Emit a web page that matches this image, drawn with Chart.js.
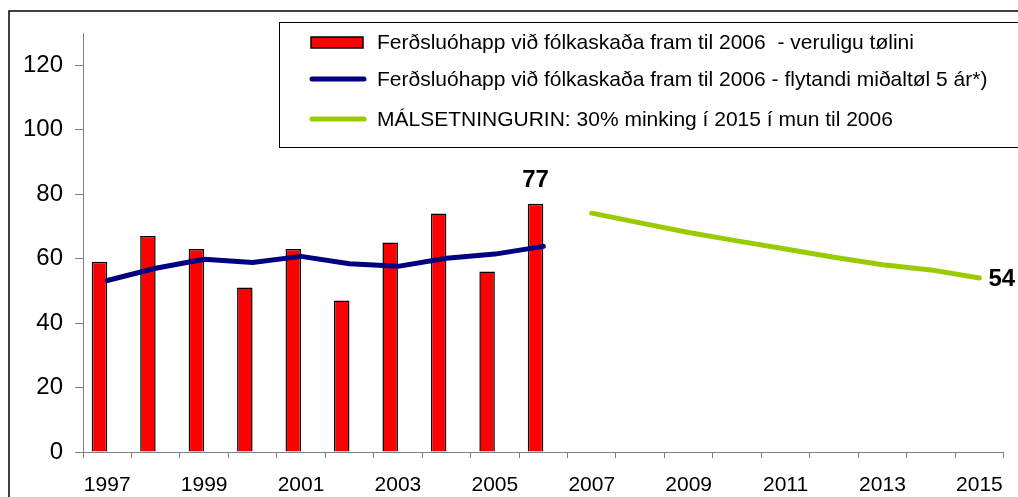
<!DOCTYPE html>
<html>
<head>
<meta charset="utf-8">
<script src="https://cdn.jsdelivr.net/npm/chart.js@4/dist/chart.umd.min.js"></script>
<style>
html,body{margin:0;padding:0;background:#fff;}
canvas{display:block;}
</style>
</head>
<body>
<canvas id="c" width="1018" height="497"></canvas>
<script>
const years = ['1997','1998','1999','2000','2001','2002','2003','2004','2005','2006','2007','2008','2009','2010','2011','2012','2013','2014','2015'];
const actualCounts = [59,67,63,51,63,47,65,74,56,77,null,null,null,null,null,null,null,null,null];
const movingAverage = [53.2,57.0,59.8,58.8,60.7,58.4,57.6,60.1,61.4,63.8,null,null,null,null,null,null,null,null,null];
const targetPath = [null,null,null,null,null,null,null,null,null,null,74.1,71.1,68.1,65.5,63.0,60.4,58.1,56.5,54.0];
const emptySlot = years.map(() => null);
const yTicksMax = 120;

const labelActual = 'Ferðsluóhapp við fólkaskaða fram til 2006  - veruligu tølini';
const labelMoving = 'Ferðsluóhapp við fólkaskaða fram til 2006 - flytandi miðaltøl 5 ár*)';
const labelTarget = 'MÁLSETNINGURIN: 30% minking í 2015 í mun til 2006';

const FONT = "'Liberation Sans', Arial, sans-serif";

const decor = {
  id: 'decor',
  beforeDraw(chart) {
    const ctx = chart.ctx;
    ctx.save();
    ctx.fillStyle = '#fff';
    ctx.fillRect(0, 0, chart.width, chart.height);
    ctx.strokeStyle = '#000';
    ctx.lineWidth = 1.5;
    ctx.strokeRect(9, 11, 1200, 700);
    ctx.restore();
  },
  afterDraw(chart) {
    const ctx = chart.ctx;
    ctx.save();
    // legend box
    ctx.fillStyle = '#fff';
    ctx.strokeStyle = '#000';
    ctx.lineWidth = 1;
    ctx.fillRect(279.5, 22.5, 800, 125);
    ctx.strokeRect(279.5, 22.5, 800, 125);
    const rows = [42, 79, 119];
    const ds = chart.data.datasets.filter(d => d.label);
    ds.forEach((d, i) => {
      const y = rows[i];
      if (d.type === 'line') {
        ctx.strokeStyle = d.borderColor;
        ctx.lineWidth = 5;
        ctx.lineCap = 'round';
        ctx.beginPath();
        ctx.moveTo(312, y);
        ctx.lineTo(364, y);
        ctx.stroke();
      } else {
        ctx.fillStyle = d.backgroundColor;
        ctx.fillRect(311, y - 5, 52, 11);
        ctx.strokeStyle = '#000';
        ctx.lineWidth = 1.5;
        ctx.strokeRect(311, y - 5, 52, 11);
      }
      ctx.fillStyle = '#000';
      ctx.font = '21px ' + FONT;
      ctx.textBaseline = 'middle';
      ctx.textAlign = 'left';
      ctx.fillText(d.label, 377, y + 1);
    });
    // value labels
    ctx.font = 'bold 24px ' + FONT;
    ctx.fillStyle = '#000';
    const barMeta = chart.getDatasetMeta(0);
    let lastBar = -1;
    actualCounts.forEach((v, i) => { if (v !== null) lastBar = i; });
    const bar = barMeta.data[lastBar];
    ctx.textAlign = 'center';
    ctx.textBaseline = 'alphabetic';
    ctx.fillText(String(actualCounts[lastBar]), bar.x, bar.y - 17);
    const tMeta = chart.getDatasetMeta(3);
    let lastT = -1;
    targetPath.forEach((v, i) => { if (v !== null) lastT = i; });
    const pt = tMeta.data[lastT];
    ctx.textAlign = 'left';
    ctx.textBaseline = 'middle';
    ctx.fillText(String(Math.round(targetPath[lastT])), pt.x + 9, pt.y + 1);
    ctx.restore();
  }
};

new Chart(document.getElementById('c'), {
  type: 'bar',
  data: {
    labels: years,
    datasets: [
      { type: 'bar', label: labelActual, data: actualCounts, backgroundColor: '#FF0000', borderColor: '#000', borderWidth: 1.5, order: 3, categoryPercentage: 0.64, barPercentage: 1.0 },
      { type: 'bar', label: '', data: emptySlot, backgroundColor: 'rgba(0,0,0,0)', order: 4, categoryPercentage: 0.64, barPercentage: 1.0 },
      { type: 'line', label: labelMoving, data: movingAverage, borderColor: '#000080', borderWidth: 5, pointRadius: 0, tension: 0, borderCapStyle: 'round', borderJoinStyle: 'round', order: 1 },
      { type: 'line', label: labelTarget, data: targetPath, borderColor: '#99CC00', borderWidth: 5, pointRadius: 0, tension: 0, borderCapStyle: 'round', borderJoinStyle: 'round', order: 1 }
    ]
  },
  options: {
    responsive: false,
    devicePixelRatio: 1,
    animation: false,
    layout: { padding: { top: 33, right: 10, left: 0, bottom: 0 } },
    plugins: { legend: { display: false }, tooltip: { enabled: false } },
    scales: {
      x: {
        offset: true,
        afterFit(s) { s.height = 45; },
        grid: { drawOnChartArea: false, tickLength: 6, color: '#808080', offset: true },
        border: { color: '#808080', width: 1 },
        ticks: {
          autoSkip: false, maxRotation: 0, minRotation: 0, color: '#000', padding: 15,
          font: { family: FONT, size: 21 },
          callback(v, i) { return i % 2 === 0 ? this.getLabelForValue(v) : ''; }
        }
      },
      y: {
        min: 0, max: 130,
        afterFit(s) { s.width = 83; },
        afterBuildTicks(s) { s.ticks = s.ticks.filter(t => t.value <= yTicksMax); },
        grid: { drawOnChartArea: false, tickLength: 8, color: '#808080' },
        border: { color: '#808080', width: 1 },
        ticks: { stepSize: 20, color: '#000', padding: 12, font: { family: FONT, size: 24 } }
      }
    }
  },
  plugins: [decor]
});
</script>
</body>
</html>
